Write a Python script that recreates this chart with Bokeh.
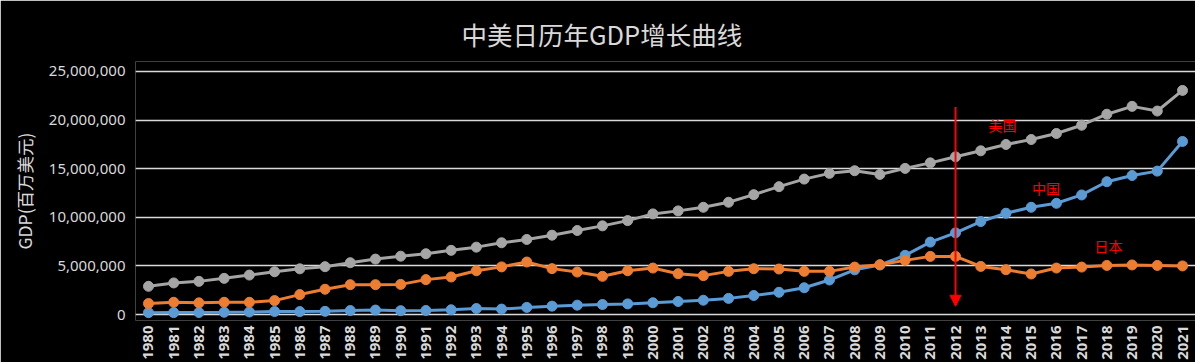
import math
from bokeh.plotting import figure
from bokeh.models import (Range1d, FixedTicker, NumeralTickFormatter, Arrow, NormalHead,
                          ColumnDataSource)
from bokeh.core.properties import value
from bokeh.embed import file_html
from bokeh.resources import INLINE

years = list(range(1980, 2022))

usa = [2900000, 3250000, 3410000, 3720000, 4060000, 4400000, 4700000, 4920000, 5330000, 5700000,
       6000000, 6250000, 6600000, 6930000, 7380000, 7720000, 8160000, 8640000, 9120000, 9660000,
       10350000, 10660000, 11030000, 11550000, 12330000, 13150000, 13930000, 14520000, 14790000, 14410000,
       15030000, 15600000, 16220000, 16840000, 17490000, 18000000, 18620000, 19470000, 20600000, 21410000,
       20930000, 23050000]

china = [191000, 196000, 205000, 231000, 260000, 309000, 301000, 327000, 408000, 457000,
         395000, 415000, 488000, 613000, 559000, 734000, 863000, 962000, 1029000, 1094000,
         1211000, 1339000, 1471000, 1660000, 1955000, 2286000, 2752000, 3550000, 4594000, 5102000,
         6087000, 7450000, 8400000, 9560000, 10420000, 11030000, 11440000, 12300000, 13660000, 14300000,
         14750000, 17800000]

japan = [1130000, 1260000, 1200000, 1260000, 1260000, 1430000, 2050000, 2600000, 3070000, 3070000,
         3100000, 3590000, 3860000, 4500000, 4900000, 5400000, 4720000, 4370000, 3930000, 4500000,
         4780000, 4200000, 4000000, 4440000, 4710000, 4680000, 4440000, 4440000, 4880000, 5120000,
         5570000, 5980000, 5980000, 4950000, 4610000, 4170000, 4780000, 4880000, 5050000, 5100000,
         5050000, 5000000]

y_ticks = [0, 5000000, 10000000, 15000000, 20000000, 25000000]

series_names = ["中国", "日本", "美国"]
series_colors = ["#5b9bd5", "#ed7d31", "#a5a5a5"]

# annotation texts (name labels) and arrow year
label_texts = ["美国", "中国", "日本"]
label_x = [2013.86, 2015.59, 2018.07]
label_y = [19470000, 13010000, 7070000]
arrow_year = 2012
arrow_top = 21350000
arrow_bottom = 850000

TXT = "#d9d9d9"

p = figure(width=1195, height=362, output_backend="svg", toolbar_location=None,
           x_range=Range1d(1979.485, 2021.515), y_range=Range1d(-615000, 26025000),
           background_fill_color="black", border_fill_color="black",
           min_border_left=135, min_border_right=0, min_border_top=61, min_border_bottom=41)
p.outline_line_color = None

p.title.text = "中美日历年GDP增长曲线"
p.title.text_color = TXT
p.title.text_font = "Noto Sans CJK SC"
p.title.text_font_size = "25.5px"
p.title.text_font_style = "normal"
p.title.align = "left"
p.title.offset = 326
p.title.standoff = 20

# axes
p.xaxis.ticker = FixedTicker(ticks=years)
p.xaxis.major_label_orientation = math.pi / 2
p.xaxis.major_label_text_font = "Noto Sans"
p.xaxis.major_label_text_font_size = "15px"
p.xaxis.major_label_text_font_style = "bold"
p.xaxis.major_label_text_color = TXT
p.xaxis.major_label_standoff = 5
p.xaxis.axis_line_color = None
p.xaxis.major_tick_line_color = None
p.xaxis.minor_tick_line_color = None
p.xaxis.major_tick_out = 0
p.xaxis.major_tick_in = 0
p.xaxis.minor_tick_out = 0

p.yaxis.ticker = FixedTicker(ticks=y_ticks)
p.yaxis.formatter = NumeralTickFormatter(format="0,0")
p.yaxis.major_label_text_font = "Noto Sans"
p.yaxis.major_label_text_font_size = "15px"
p.yaxis.major_label_text_color = TXT
p.yaxis.major_label_standoff = 10
p.yaxis.axis_line_color = None
p.yaxis.major_tick_line_color = None
p.yaxis.minor_tick_line_color = None
p.yaxis.major_tick_out = 0
p.yaxis.major_tick_in = 0
p.yaxis.minor_tick_out = 0
p.yaxis.axis_label = "GDP(百万美元)"
p.yaxis.axis_label_text_font = "Noto Sans CJK SC"
p.yaxis.axis_label_text_font_size = "17.5px"
p.yaxis.axis_label_text_font_style = "normal"
p.yaxis.axis_label_text_color = TXT
p.yaxis.axis_label_standoff = 9

p.xgrid.grid_line_color = None
p.ygrid.grid_line_color = TXT
p.ygrid.grid_line_width = 1.5

for name, vals, col in zip(series_names, [china, japan, usa], series_colors):
    src = ColumnDataSource(dict(x=years, y=vals))
    p.line("x", "y", source=src, line_color=col, line_width=3)
    p.scatter("x", "y", source=src, size=10, fill_color=col, line_color=col)

p.add_layout(Arrow(x_start=arrow_year, y_start=arrow_top, x_end=arrow_year, y_end=arrow_bottom,
                   line_color="#ff0000", line_width=2,
                   end=NormalHead(size=11, fill_color="#ff0000", line_color="#ff0000")))

p.text(x=label_x, y=label_y, text=label_texts, text_color="#ff0000",
       text_font=value("Noto Sans CJK SC"), text_font_size="14px",
       text_align="center", text_baseline="middle")

open("out.html", "w").write(file_html(p, INLINE))
